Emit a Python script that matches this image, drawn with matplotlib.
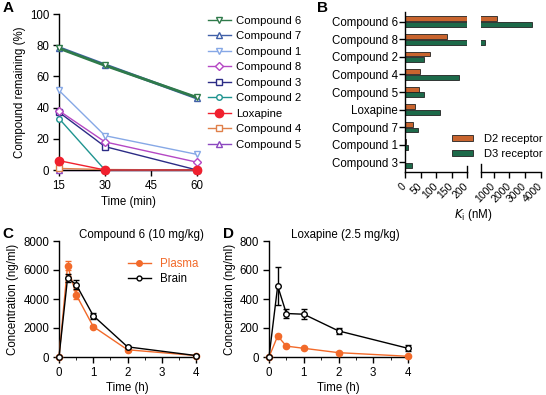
import matplotlib
matplotlib.use("Agg")
import matplotlib.pyplot as plt
import numpy as np
from matplotlib.lines import Line2D
from matplotlib.patches import Patch

plt.rcParams['font.family'] = ['Liberation Sans', 'DejaVu Sans']
plt.rcParams['font.size'] = 8.3
plt.rcParams['axes.linewidth'] = 1.0
plt.rcParams['xtick.major.width'] = 1.0
plt.rcParams['ytick.major.width'] = 1.0

# ---------------- Panel A data ----------------
time_min = [15, 30, 60]
a_names = ['Compound 6', 'Compound 7', 'Compound 1', 'Compound 8', 'Compound 3',
           'Compound 2', 'Loxapine', 'Compound 4', 'Compound 5']
cmp6 = [78, 67, 46.5]
cmp7 = [78.5, 67.5, 46]
cmp1 = [51, 22, 10]
cmp8 = [38, 18, 5]
cmp3 = [37, 15, 0]
cmp2 = [33, 0, 0]
loxa = [6, 0, 0]
cmp4 = [1, 0.3, 0]
cmp5 = [0, 0, 0]

# ---------------- Panel B data ----------------
b_categories = ['Compound 6', 'Compound 8', 'Compound 2', 'Compound 4', 'Compound 5',
                'Loxapine', 'Compound 7', 'Compound 1', 'Compound 3']
d2_ki = [1240, 134, 82, 49, 44, 31, 26, 2, 1]
d3_ki = [3450, 430, 62, 175, 62, 112, 41, 11, 22]

# ---------------- Panel C / D data ----------------
time_h = [0, 0.25, 0.5, 1, 2, 4]
c_plasma = [0, 6300, 4300, 2100, 500, 100]
c_plasma_err = [0, 300, 300, 80, 60, 20]
c_brain = [0, 5450, 5000, 2850, 700, 100]
c_brain_err = [0, 250, 300, 200, 80, 20]
d_plasma = [0, 145, 75, 60, 30, 5]
d_plasma_err = [0, 10, 8, 5, 4, 2]
d_brain = [0, 490, 300, 295, 180, 60]
d_brain_err = [0, 130, 30, 35, 20, 20]

W, H = 546, 395
fig = plt.figure(figsize=(W / 100, H / 100), dpi=100)

def ax_px(x0, y0, x1, y1):
    return fig.add_axes([x0 / W, 1 - y1 / H, (x1 - x0) / W, (y1 - y0) / H])

# ================= Panel A =================
axA = ax_px(59, 14, 197, 170)
a_series = [cmp6, cmp7, cmp1, cmp8, cmp3, cmp2, loxa, cmp4, cmp5]
a_colors = ['#2f7a4a', '#4060a8', '#86a8e6', '#b548c4', '#2c2c86',
            '#1f9490', '#f0202e', '#e0804a', '#8c48c0']
a_markers = ['v', '^', 'v', 'D', 's', 'o', 'o', 's', '^']
a_lw = [2.0, 2.0, 1.0, 1.0, 1.0, 1.0, 1.0, 1.0, 1.0]
a_ms = [5, 5, 5, 4, 4, 4, 6, 4, 5]
a_z = [9, 8, 7, 6, 5, 4, 10, 3, 2]
handlesA = []
for name, ys, c, m, lw, ms, z in zip(a_names, a_series, a_colors, a_markers, a_lw, a_ms, a_z):
    fc = c if name == 'Loxapine' else 'white'
    axA.plot(time_min, ys, color=c, lw=lw, marker=m, ms=ms, mfc=fc, mec=c,
             mew=1.0, clip_on=False, zorder=z, label=name)
    handlesA.append(Line2D([], [], color=c, lw=1.0, marker=m, ms=ms, mfc=fc, mec=c, mew=1.0))
axA.set_xlim(15, 60)
axA.set_ylim(0, 100)
axA.set_xticks([15, 30, 45, 60])
axA.set_yticks([0, 20, 40, 60, 80, 100])
axA.spines[['top', 'right']].set_visible(False)
axA.set_xlabel('Time (min)', labelpad=3)
axA.set_ylabel('Compound remaining (%)', labelpad=3)
axA.tick_params(length=4, pad=3)
fig.legend(handlesA, a_names, loc='upper left', bbox_to_anchor=(208 / W, 1 - 16 / H),
           frameon=False, handlelength=2.0, handletextpad=0.5, labelspacing=0.48,
           borderaxespad=0, borderpad=0, fontsize=8.2)

# ================= Panel B =================
axB1 = ax_px(405, 12, 467, 172)
axB2 = ax_px(481, 12, 541, 172)
ypos = np.arange(len(b_categories))
d2_arr = np.array(d2_ki, dtype=float)
d3_arr = np.array(d3_ki, dtype=float)
bh = 0.28
off = 0.16
brk = 200
for ax, sel2, sel3 in ((axB1, np.ones(len(ypos), bool), np.ones(len(ypos), bool)),
                       (axB2, d2_arr > brk, d3_arr > brk)):
    ax.barh(ypos[sel2] - off, d2_arr[sel2], height=bh, color='#c8642e', edgecolor='#222222', lw=0.6)
    ax.barh(ypos[sel3] + off, d3_arr[sel3], height=bh, color='#1d6a4a', edgecolor='#222222', lw=0.6)
    ax.set_ylim(8.55, -0.55)
    ax.spines[['top', 'right']].set_visible(False)
axB1.tick_params(axis='y', length=4, pad=1)
axB1.set_xlim(0, brk)
axB1.set_xticks([0, 50, 100, 150, 200])
axB1.set_yticks(ypos)
axB1.set_yticklabels(b_categories)
axB2.set_xlim(brk, 4000)
axB2.set_xticks([1000, 2000, 3000, 4000])
axB2.spines['left'].set_visible(False)
axB2.set_yticks([])
for ax in (axB1, axB2):
    ax.tick_params(axis='x', length=4, pad=5)
    for lab in ax.get_xticklabels():
        lab.set_rotation(45)
        lab.set_ha('right')
        lab.set_va('center')
        lab.set_rotation_mode('anchor')
        lab.set_fontsize(7.5)
# break markers
axB1.plot([1, 1], [0.0, 0.035], transform=axB1.transAxes, color='black', lw=1.0, clip_on=False)
axB2.plot([0, 0], [-0.03, 0.05], transform=axB2.transAxes, color='black', lw=1.0, clip_on=False)
fig.text(473 / W, 1 - 215 / H, r'$K_{\mathrm{i}}$ (nM)', ha='center', va='center', fontsize=8.3)
handlesB = [Patch(facecolor='#c8642e', edgecolor='#222222', lw=0.6),
            Patch(facecolor='#1d6a4a', edgecolor='#222222', lw=0.6)]
fig.legend(handlesB, ['D2 receptor', 'D3 receptor'], loc='upper left',
           bbox_to_anchor=(452 / W, 1 - 134 / H), frameon=False, handlelength=1.9,
           handleheight=0.5, handletextpad=1.0, labelspacing=0.42, borderaxespad=0,
           borderpad=0, fontsize=8.0)

# ================= Panel C =================
plasma_c = '#f26a2a'
axC = ax_px(59, 241, 196, 357)
axC.errorbar(time_h, c_plasma, yerr=c_plasma_err, color=plasma_c, marker='o', ms=4.5,
             mfc=plasma_c, mec=plasma_c, lw=1.0, capsize=2, elinewidth=1.0, clip_on=False,
             zorder=3)
axC.errorbar(time_h, c_brain, yerr=c_brain_err, color='black', marker='o', ms=4,
             mfc='white', mec='black', lw=1.0, capsize=2, elinewidth=1.0, clip_on=False,
             zorder=4)
axC.set_xlim(0, 4)
axC.set_ylim(0, 8000)
axC.set_yticks([0, 2000, 4000, 6000, 8000])
axC.set_xticks([0, 1, 2, 3, 4])
axC.set_xticks([0.5, 1.5, 2.5, 3.5], minor=True)
axC.spines[['top', 'right']].set_visible(False)
axC.tick_params(length=4, pad=3)
axC.tick_params(which='minor', length=2.5)
axC.set_xlabel('Time (h)', labelpad=2)
axC.set_ylabel('Concentration (ng/ml)', labelpad=3)
axC.text(0.6, 1.055, 'Compound 6 (10 mg/kg)', transform=axC.transAxes, ha='center',
         va='center', fontsize=8.3)
handlesC = [Line2D([], [], color=plasma_c, lw=1.0, marker='o', ms=4, mfc=plasma_c, mec=plasma_c),
            Line2D([], [], color='black', lw=1.0, marker='o', ms=3.5, mfc='white', mec='black')]
leg = axC.legend(handlesC, ['Plasma', 'Brain'], loc='upper left', bbox_to_anchor=(0.5, 0.85),
                 frameon=False, handlelength=2.0, handletextpad=0.8, labelspacing=0.25,
                 borderaxespad=0, borderpad=0, fontsize=8.3)
leg.get_texts()[0].set_color(plasma_c)

# ================= Panel D =================
axD = ax_px(269, 241, 408, 357)
axD.errorbar(time_h, d_plasma, yerr=d_plasma_err, color=plasma_c, marker='o', ms=4.5,
             mfc=plasma_c, mec=plasma_c, lw=1.0, capsize=2, elinewidth=1.0, clip_on=False,
             zorder=3)
axD.errorbar(time_h, d_brain, yerr=d_brain_err, color='black', marker='o', ms=4,
             mfc='white', mec='black', lw=1.0, capsize=2, elinewidth=1.0, clip_on=False,
             zorder=4)
axD.set_xlim(0, 4)
axD.set_ylim(0, 800)
axD.set_yticks([0, 200, 400, 600, 800])
axD.set_xticks([0, 1, 2, 3, 4])
axD.set_xticks([0.5, 1.5, 2.5, 3.5], minor=True)
axD.spines[['top', 'right']].set_visible(False)
axD.tick_params(length=4, pad=3)
axD.tick_params(which='minor', length=2.5)
axD.set_xlabel('Time (h)', labelpad=2)
axD.set_ylabel('Concentration (ng/ml)', labelpad=3)
axD.text(0.55, 1.055, 'Loxapine (2.5 mg/kg)', transform=axD.transAxes, ha='center',
         va='center', fontsize=8.3)

# panel letters
for letter, x, y in [('A', 8, 8), ('B', 322, 8), ('C', 8, 234), ('D', 228, 234)]:
    fig.text(x / W, 1 - y / H, letter, fontsize=11, fontweight='bold', ha='center', va='center')

fig.savefig('out.png', dpi=100)
